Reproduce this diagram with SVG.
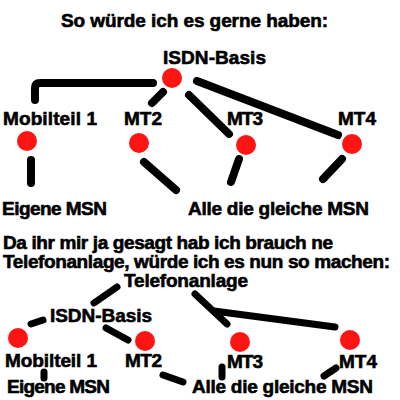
<svg xmlns="http://www.w3.org/2000/svg" width="400" height="400" viewBox="0 0 400 400">
<style>
text{font-family:"Liberation Sans",Arial,sans-serif;font-weight:bold;font-size:19px;fill:#000;stroke:#000;stroke-width:0.6}
.dot{fill:#ff1414}
.c1{fill:none;stroke:#000;stroke-width:8;stroke-linecap:round;stroke-linejoin:round}
.c2{fill:none;stroke:#000;stroke-width:7;stroke-linecap:round;stroke-linejoin:round}
</style>
<rect width="400" height="400" fill="#fff"/>
<text id="title1" x="61" y="27" textLength="267">So würde ich es gerne haben:</text>
<g id="connectors-top">
<path class="c1" d="M153,83 L40,83 Q35,83 35,88 L35,100"/>
<path class="c1" d="M163,92 L152,103"/>
<path class="c1" d="M189,95 L229,134"/>
<path class="c1" d="M197,81 L338,135"/>
<path class="c1" d="M31,160 L31,183"/>
<path class="c1" d="M144,162 L176,190"/>
<path class="c1" d="M239,159 L231,182"/>
<path class="c1" d="M342,159 L323,179"/>
</g>
<g id="isdn-top"><circle class="dot" cx="172" cy="78" r="10"/><text x="163" y="64" textLength="103">ISDN-Basis</text></g>
<g id="mobil-top"><circle class="dot" cx="27" cy="141" r="10"/><text x="3" y="125" textLength="94">Mobilteil 1</text></g>
<g id="mt2-top"><circle class="dot" cx="139" cy="143" r="10"/><text x="124" y="125" textLength="38">MT2</text></g>
<g id="mt3-top"><circle class="dot" cx="246" cy="145" r="10"/><text x="227" y="125" textLength="36">MT3</text></g>
<g id="mt4-top"><circle class="dot" cx="352" cy="144" r="10"/><text x="338" y="125" textLength="38">MT4</text></g>
<g id="eigene-top"><text x="2" y="215" textLength="105">Eigene MSN</text></g>
<g id="alle-top"><text x="188" y="215" textLength="181">Alle die gleiche MSN</text></g>
<text id="para1" x="3" y="249" textLength="330">Da ihr mir ja gesagt hab ich brauch ne</text>
<text id="para2" x="3" y="268" textLength="387">Telefonanlage, würde ich es nun so machen:</text>
<g id="connectors-bottom">
<path class="c2" d="M117,287 L94,303"/>
<path class="c2" d="M43,320 L31,324"/>
<path class="c2" d="M106,328 L128,340"/>
<path class="c2" d="M195,294 L227,324"/>
<path class="c2" d="M214,311 L335,327"/>
<path class="c2" d="M44,372 L44,378"/>
<path class="c2" d="M163,375 L183,382"/>
<path class="c2" d="M222,367 L222,377"/>
<path class="c2" d="M336,368 L324,376"/>
</g>
<g id="telefonanlage"><text x="124" y="287" textLength="124">Telefonanlage</text></g>
<g id="isdn-bottom"><text x="50" y="322" textLength="102">ISDN-Basis</text></g>
<g id="mobil-bottom"><circle class="dot" cx="18" cy="338" r="10"/><text x="5" y="367" textLength="92">Mobilteil 1</text></g>
<g id="mt2-bottom"><circle class="dot" cx="145" cy="341" r="10"/><text x="125" y="367" textLength="37">MT2</text></g>
<g id="mt3-bottom"><circle class="dot" cx="240" cy="342" r="10"/><text x="227" y="368" textLength="36">MT3</text></g>
<g id="mt4-bottom"><circle class="dot" cx="350" cy="340" r="10"/><text x="339" y="368" textLength="38">MT4</text></g>
<g id="eigene-bottom"><text x="7" y="393" textLength="103">Eigene MSN</text></g>
<g id="alle-bottom"><text x="192" y="393" textLength="181">Alle die gleiche MSN</text></g>
</svg>
